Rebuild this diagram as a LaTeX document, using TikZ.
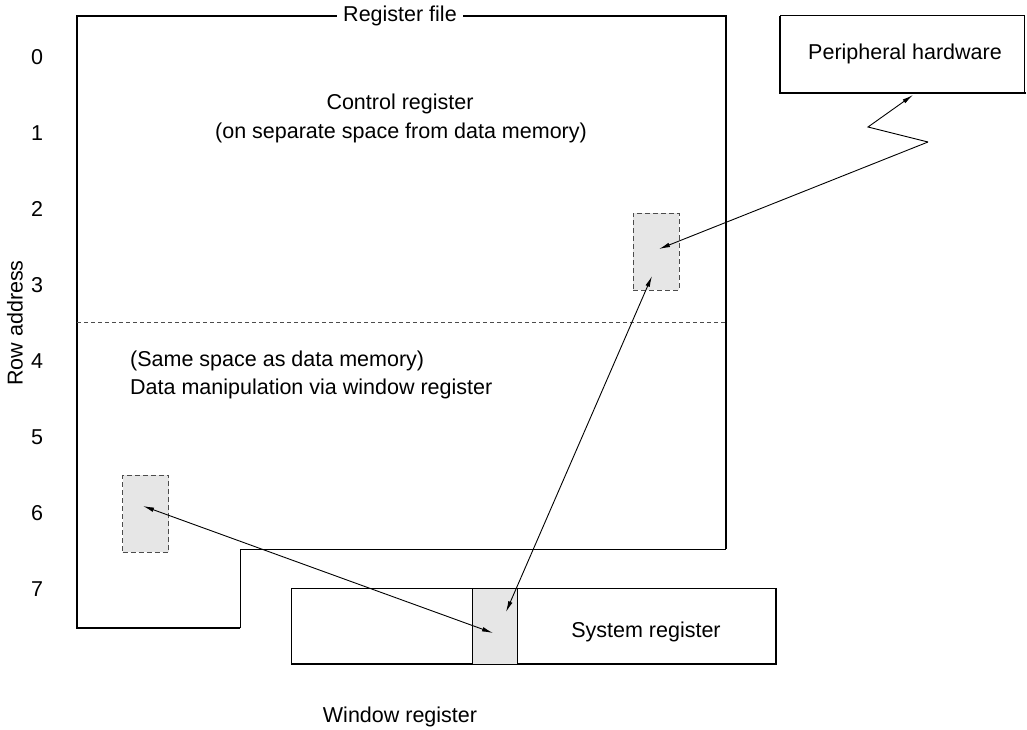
\documentclass[tikz,border=0pt]{standalone}
\usepackage{fontspec}
\setmainfont{Liberation Sans}
\usetikzlibrary{arrows.meta}
\definecolor{shade}{HTML}{E6E6E6}
\begin{document}
\begin{tikzpicture}[x=1pt,y=-1pt,
  txt/.style={font=\fontsize{21.5}{25}\selectfont, inner sep=0pt},
  thickl/.style={line width=2.6pt},
  thinl/.style={line width=1pt},
  dbox/.style={draw=black!70, dashed, dash pattern=on 5pt off 3pt, fill=shade, line width=1pt, minimum width=46pt, minimum height=77pt, inner sep=0pt},
  arr/.style={line width=0.9pt, {Latex[length=11pt,width=4.5pt]}-{Latex[length=11pt,width=4.5pt]}},
  arr1/.style={line width=0.9pt, -{Latex[length=11pt,width=4.5pt]}}
]
\useasboundingbox (0,0) rectangle (1027,730);
% register file outline
\draw[thickl] (240,628) -- (77,628) -- (77,16) -- (726,16) -- (726,549);
\draw[thinl] (726,549) -- (240,549) -- (240,628);
\node[txt, fill=white, inner xsep=6pt] (rf) at (400,16) {Register file};
% dashed separator
\draw[thinl, dashed, draw=black!70, dash pattern=on 4pt off 3pt] (77,322) -- (726,322);
% row labels
\foreach \i in {0,...,7} {
  \node[txt] (r\i) at (37,57+76*\i) {\i};
}
\node[txt, rotate=90] (ra) at (15,323) {Row address};
% texts
\node[txt] (cr) at (400,104) {Control register};
\node[txt] (cr2) at (401,133) {(on separate space from data memory)};
\node[txt, anchor=west] (sm) at (130,361) {(Same space as data memory)};
\node[txt, anchor=west] (dm) at (130,389) {Data manipulation via window register};
% dashed boxes
\node[dbox] (d1) at (656,251.5) {};
\node[dbox] (d2) at (145.5,513.5) {};
% peripheral
\node[draw, thinl, minimum width=244pt, minimum height=77pt, inner sep=0pt] (ph) at (902,54.5) {};
\node[txt] (pht) at (905,54) {Peripheral hardware};
\draw[thickl] (780,16) -- (780,93) -- (1026,93);
% system register
\node[draw, thinl, minimum width=485pt, minimum height=76pt, inner sep=0pt] (sr) at (533.5,626) {};
\draw[line width=2.2pt] (291,664) -- (776,664) -- (776,588);
\node[draw, thinl, fill=shade, minimum width=45pt, minimum height=76pt, inner sep=0pt] (wr) at (494.5,626) {};
\node[txt] (srt) at (646,632) {System register};
\node[txt] (wrt) at (400,717) {Window register};
% arrows
\coordinate (z1) at (928,142);
\coordinate (z2) at (868,127);
\coordinate (phin) at (913,95);
\coordinate (d1a) at (659,249);
\coordinate (d1b) at (652,276);
\coordinate (wra) at (506,612);
\coordinate (wrb) at (493,633);
\coordinate (d2a) at (143,506);
\draw[arr1] (z1) -- (d1a);
\draw[arr1] (z1) -- (z2) -- (phin);
\draw[arr] (wra) -- (d1b);
\draw[arr] (wrb) -- (d2a);
\end{tikzpicture}
\end{document}
